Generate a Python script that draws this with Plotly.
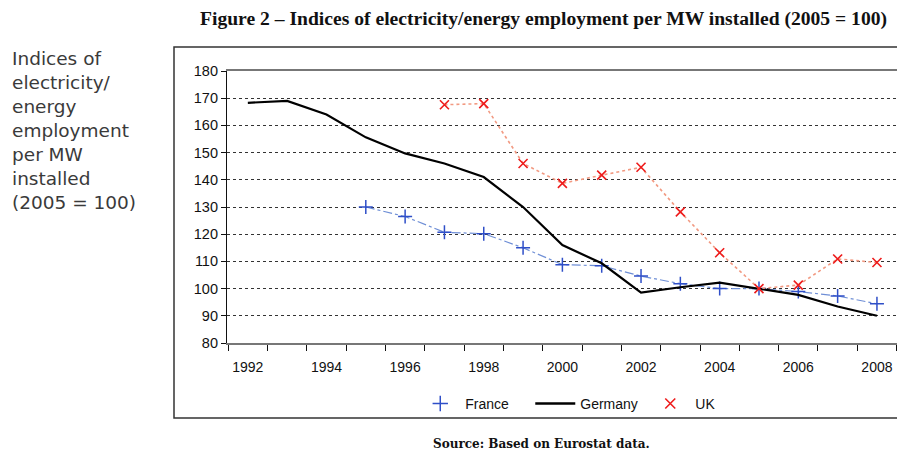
import plotly.graph_objects as go

years = list(range(1992, 2009))
france_years = list(range(1995, 2009))
france = [130.0, 126.5, 120.7, 120.2, 115.0, 108.8, 108.4, 104.6, 101.8, 100.0, 100.0, 98.9, 97.3, 94.4]
germany = [168.3, 169.0, 164.0, 155.6, 149.7, 146.0, 141.0, 130.0, 116.0, 109.3, 98.5, 100.5, 102.2, 100.0, 97.7, 93.4, 90.0]
uk_years = list(range(1997, 2009))
uk = [167.6, 168.0, 146.0, 138.7, 141.7, 144.6, 128.2, 113.2, 100.0, 101.3, 110.9, 109.6]

x_labels = [str(y) for y in range(1992, 2009, 2)]

FR_LINE = "#6f8fd6"
FR_MARK = "#2f4fc8"
UK_LINE = "#f29a82"
UK_MARK = "#ee1c1c"

fig = go.Figure()
fig.add_trace(go.Scatter(
    x=france_years, y=france, name="France", mode="lines+markers", showlegend=False,
    line=dict(color=FR_LINE, width=1.2, dash="dashdot"),
    marker=dict(symbol="cross-thin-open", size=10, line=dict(color=FR_MARK, width=1.5), color=FR_MARK),
))
fig.add_trace(go.Scatter(
    x=years, y=germany, name="Germany", mode="lines", showlegend=False,
    line=dict(color="#000000", width=2.2),
))
fig.add_trace(go.Scatter(
    x=uk_years, y=uk, name="UK", mode="lines+markers", showlegend=False,
    line=dict(color=UK_LINE, width=1.6, dash="dot"),
    marker=dict(symbol="x-thin-open", size=9, line=dict(color=UK_MARK, width=1.6), color=UK_MARK),
))
# legend entries (styled like the reference legend)
fig.add_trace(go.Scatter(x=[None], y=[None], name="France", mode="markers",
                         marker=dict(symbol="cross-thin-open", size=11, color=FR_MARK,
                                     line=dict(color=FR_MARK, width=1.5))))
fig.add_trace(go.Scatter(x=[None], y=[None], name="Germany", mode="lines",
                         line=dict(color="#000000", width=2.4)))
fig.add_trace(go.Scatter(x=[None], y=[None], name="UK", mode="markers",
                         marker=dict(symbol="x-thin-open", size=10, color=UK_MARK,
                                     line=dict(color=UK_MARK, width=1.6))))

fig.update_layout(
    width=897, height=450,
    margin=dict(l=227, r=0, t=71, b=107),
    paper_bgcolor="white", plot_bgcolor="white",
    showlegend=True,
    legend=dict(orientation="h", x=0.281, xanchor="left", y=-0.224, yanchor="middle",
                bgcolor="rgba(0,0,0,0)",
                font=dict(family="Liberation Sans, Arial", size=14, color="#111"),
                itemwidth=40, tracegroupgap=0, entrywidth=60, entrywidthmode="pixels"),
    font=dict(family="Liberation Sans, Arial", size=14, color="#111"),
)
fig.update_xaxes(
    range=[1991.47, 2008.51], tickmode="array",
    tickvals=[int(s) for s in x_labels], ticktext=x_labels,
    ticks="", showgrid=False, zeroline=False,
    showline=True, linecolor="#777", linewidth=1.5, mirror=True,
    ticklabelstandoff=10,
    minor=dict(tick0=1991.5, dtick=1, ticks="outside", ticklen=6, tickcolor="#111", showgrid=False),
    tickfont=dict(size=14, color="#111"),
)
fig.update_yaxes(
    range=[80, 180], tickmode="linear", tick0=80, dtick=10,
    ticks="outside", ticklen=5, tickcolor="#111",
    showgrid=True, gridcolor="#333", gridwidth=1, griddash="dot",
    zeroline=False, showline=True, linecolor="#111", linewidth=1.2,
    tickfont=dict(size=14.5, color="#111"),
)

# chart border box
fig.add_shape(type="rect", xref="paper", yref="paper",
              x0=-0.0791, x1=1.01, y0=-0.2757, y1=1.088,
              line=dict(color="#333", width=1.5), fillcolor="rgba(0,0,0,0)", layer="below")

fig.add_annotation(xref="paper", yref="paper", x=0.472, y=1.19, xanchor="center", yanchor="middle",
                   text="<b>Figure 2 – Indices of electricity/energy employment per MW installed (2005 = 100)</b>",
                   showarrow=False, font=dict(family="Liberation Serif, serif", size=19.6, color="#111"))
fig.add_annotation(xref="paper", yref="paper", x=0.470, y=-0.372, xanchor="center", yanchor="middle",
                   text="<b>Source: Based on Eurostat data.</b>",
                   showarrow=False, font=dict(family="DejaVu Serif, serif", size=12, color="#111"))
fig.add_annotation(xref="paper", yref="paper", x=-0.324, y=1.092, xanchor="left", yanchor="top", align="left",
                   text="Indices of<br>electricity/<br>energy<br>employment<br>per MW<br>installed<br>(2005 = 100)",
                   showarrow=False, font=dict(family="DejaVu Sans, sans-serif", size=18.5, color="#3a3a3a"))

fig.write_html("out.html", config={"displayModeBar": False},
               post_script="document.body.style.margin='0';document.body.style.padding='0';")
